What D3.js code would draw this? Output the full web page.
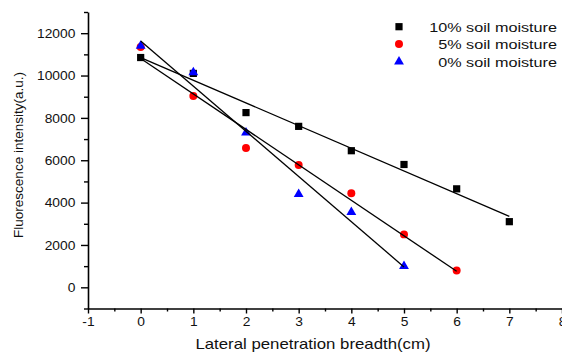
<!DOCTYPE html>
<html><head><meta charset="utf-8">
<script src="https://cdn.jsdelivr.net/npm/d3@7"></script>
<style>body{margin:0;background:#fff}svg{display:block;font-family:"Liberation Sans",Arial,sans-serif}</style>
</head><body>
<script>
const xTicks = [-1,0,1,2,3,4,5,6,7,8];
const yTicks = [0,2000,4000,6000,8000,10000,12000];
const seriesNames = ["10% soil moisture","5% soil moisture","0% soil moisture"];
const x10 = [0,1,2,3,4,5,6,7];
const y10 = [10850,10100,8250,7600,6450,5800,4650,3100];
const x5 = [0,1,2,3,4,5,6];
const y5 = [11350,9030,6580,5780,4440,2500,790];
const x0 = [0,1,2,3,4,5];
const y0 = [11400,10150,7300,4400,3550,1000];
const colors = ["#000000","#ff0000","#0000ff"];

const W=562,H=356;
const svg=d3.select("body").append("svg").attr("width",W).attr("height",H);
const x=d3.scaleLinear().domain([-1,8]).range([88,562]);
const y=d3.scaleLinear().domain([-1000,13000]).range([308.5,12]);

// axes
const xAxis=d3.axisBottom(x).tickValues(xTicks).tickSize(5).tickSizeOuter(0).tickPadding(4).tickFormat(d=>String(d));
const gx=svg.append("g").attr("transform","translate(0,308.5)").call(xAxis);
const xMinor=d3.axisBottom(x).tickValues(d3.range(-0.5,8,1)).tickSize(3).tickSizeOuter(0).tickFormat("");
svg.append("g").attr("transform","translate(0,308.5)").call(xMinor).select(".domain").remove();
const yAxis=d3.axisLeft(y).tickValues(yTicks).tickSize(7).tickSizeOuter(0).tickPadding(5).tickFormat(d=>String(d));
const gy=svg.append("g").attr("transform","translate(88,0)").call(yAxis);
const yMinor=d3.axisLeft(y).tickValues(d3.range(-1000,13001,2000)).tickSize(4).tickSizeOuter(0).tickFormat("");
svg.append("g").attr("transform","translate(88,0)").call(yMinor).select(".domain").remove();
svg.selectAll(".domain").attr("stroke-width",1.6).attr("stroke","#000");
svg.selectAll(".tick line").attr("stroke-width",1.4).attr("stroke","#000");
gx.selectAll("text").attr("font-size",12).attr("fill","#111").attr("font-family","Liberation Sans, Arial, sans-serif").attr("transform","scale(1.15,1)");
gy.selectAll("text").attr("font-size",12).attr("fill","#111").attr("font-family","Liberation Sans, Arial, sans-serif").attr("x",-11).attr("dy","0.36em").attr("transform","scale(1.15,1)");

// titles
svg.append("text").attr("x",0).attr("y",0).attr("font-size",14).attr("fill","#111")
  .attr("transform","translate(313,349) scale(1.2,1)").attr("text-anchor","middle")
  .text("Lateral penetration breadth(cm)");
svg.append("text").attr("font-size",13.5).attr("fill","#111").attr("text-anchor","middle")
  .attr("transform","translate(23,155) rotate(-90)").text("Fluorescence intensity(a.u.)");

const sets=[[x10,y10],[x5,y5],[x0,y0]];
const syms=[d3.symbol().type(d3.symbolSquare).size(52), d3.symbol().type(d3.symbolCircle).size(50), d3.symbol().type(d3.symbolTriangle).size(42)];

sets.forEach(([xs,ys],i)=>{
  svg.append("g").selectAll("path").data(xs.map((v,j)=>[v,ys[j]])).join("path")
    .attr("d",syms[i]()).attr("fill",colors[i])
    .attr("transform",d=>`translate(${x(d[0])},${y(d[1])})`);
});
// linear fit lines
sets.forEach(([xs,ys])=>{
  const mx=d3.mean(xs), my=d3.mean(ys);
  const sxy=d3.sum(xs,(v,j)=>(v-mx)*(ys[j]-my)), sxx=d3.sum(xs,v=>(v-mx)*(v-mx));
  const b=sxy/sxx, a=my-b*mx;
  const x1=d3.min(xs), x2=d3.max(xs);
  svg.append("line").attr("x1",x(x1)).attr("y1",y(a+b*x1)).attr("x2",x(x2)).attr("y2",y(a+b*x2))
    .attr("stroke","#000").attr("stroke-width",1.3);
});

// legend
const legY=[26.7,44,61.7];
seriesNames.forEach((n,i)=>{
  svg.append("path").attr("d",syms[i]()).attr("fill",colors[i]).attr("transform",`translate(399,${legY[i]})`);
  svg.append("text").attr("font-size",13.5).attr("fill","#111").attr("text-anchor","end")
    .attr("transform",`translate(557,${legY[i]+5.3}) scale(1.2,1)`).text(n);
});
</script>
</body></html>
